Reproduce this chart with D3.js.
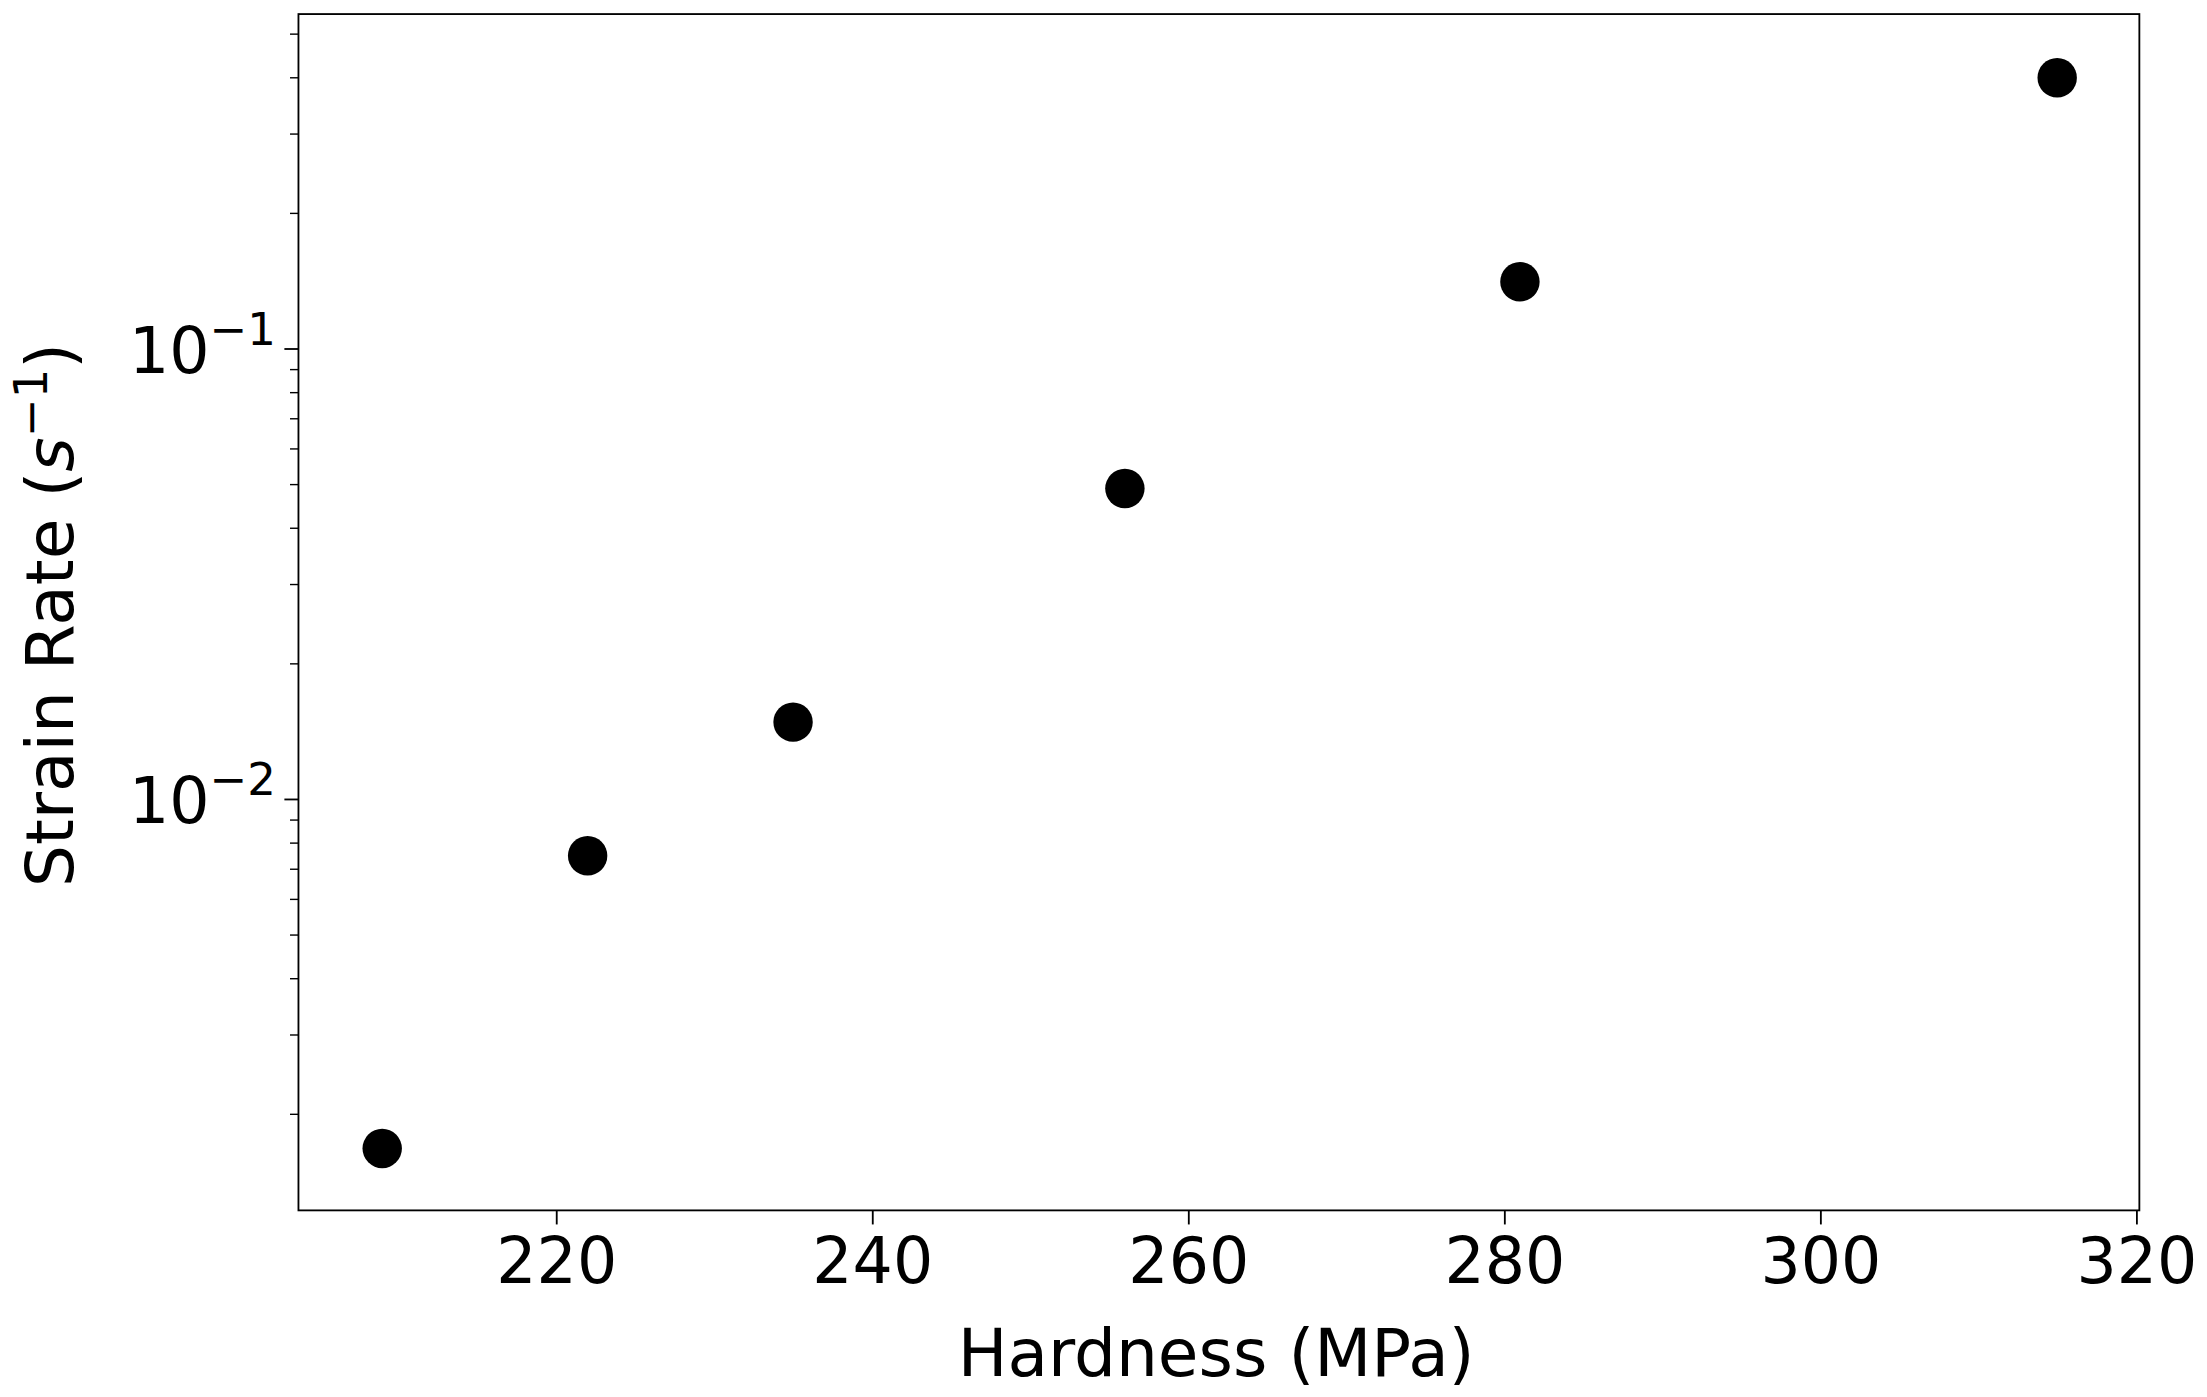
<!DOCTYPE html>
<html><head><meta charset="utf-8">
<script src="https://cdn.jsdelivr.net/npm/d3@7"></script>
<style>body{margin:0;background:#fff}</style>
</head><body>
<svg id="chart"></svg>
<script>
const hardness = [209, 222, 235, 256, 281, 315]
const strainRate = [0.00168, 0.0075, 0.01485, 0.049, 0.141, 0.40]
const xTicks = [220, 240, 260, 280, 300, 320]
const yMajor = [0.01, 0.1]
const yExp = ['\u22122', '\u22121']

const W = 1568, H = 992.6
const svg = d3.select('#chart').attr('width', 2207).attr('height', 1397)
  .attr('viewBox', `0 0 ${W} ${H}`)
  .style('font-family', 'DejaVu Sans')
const m = { l: 212, r: 1520, t: 10, b: 860 }
const x = d3.scaleLinear().domain([203.7, 320.2]).range([m.l, m.r])
const y = d3.scaleLog().domain([0.001224, 0.554]).range([m.b, m.t])

// x axis
const xg = svg.append('g').attr('transform', `translate(0,${m.b})`)
  .call(d3.axisBottom(x).tickValues(xTicks).tickSize(10).tickPadding(10).tickSizeOuter(0))
xg.select('.domain').remove()
xg.selectAll('text').attr('font-size', 45).attr('font-family', 'DejaVu Sans')
xg.selectAll('line').attr('stroke-width', 1.3)

// y minor ticks
const minor = []
for (let e = -3; e <= -1; e++) for (let k = 2; k <= 9; k++) {
  const v = k * Math.pow(10, e)
  if (v >= y.domain()[0] && v <= y.domain()[1]) minor.push(v)
}
svg.append('g').selectAll('line').data(minor).join('line')
  .attr('x1', m.l - 6).attr('x2', m.l).attr('y1', d => y(d)).attr('y2', d => y(d))
  .attr('stroke', '#000').attr('stroke-width', 1)

// y major ticks
const yg = svg.append('g')
yg.selectAll('line').data(yMajor).join('line')
  .attr('x1', m.l - 10).attr('x2', m.l).attr('y1', d => y(d)).attr('y2', d => y(d))
  .attr('stroke', '#000').attr('stroke-width', 1.3)
yMajor.forEach((v, i) => {
  const t = yg.append('text').attr('x', m.l - 16).attr('y', y(v) + 17)
    .attr('text-anchor', 'end').attr('font-size', 45)
  t.append('tspan').text('10')
  t.append('tspan').attr('dy', -20).attr('font-size', 32).text(yExp[i])
})

// frame
svg.append('rect').attr('x', m.l).attr('y', m.t).attr('width', m.r - m.l).attr('height', m.b - m.t)
  .attr('fill', 'none').attr('stroke', '#000').attr('stroke-width', 1.3)

// points
svg.append('g').selectAll('circle').data(hardness).join('circle')
  .attr('cx', d => x(d)).attr('cy', (d, i) => y(strainRate[i])).attr('r', 14).attr('fill', '#000')

// labels
svg.append('text').attr('x', (m.l + m.r) / 2 - 2).attr('y', 978).attr('text-anchor', 'middle')
  .attr('font-size', 47).text('Hardness (MPa)')
const yl = svg.append('text').attr('transform', `translate(52,${(m.t + m.b) / 2 + 2}) rotate(-90)`)
  .attr('text-anchor', 'middle').attr('font-size', 47)
yl.append('tspan').text('Strain Rate (')
yl.append('tspan').attr('font-style', 'italic').text('s')
yl.append('tspan').attr('dy', -19).attr('font-size', 33).text('\u22121')
yl.append('tspan').attr('dy', 19).text(')')
</script>
</body></html>
